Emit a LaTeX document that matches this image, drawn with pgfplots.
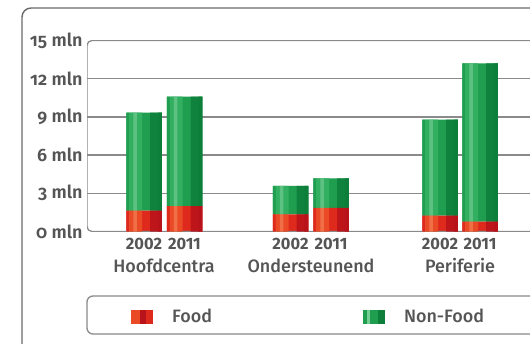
\documentclass[border=0pt]{standalone}
\usepackage{fontspec}
\setmainfont{Fira Sans}
\newfontface\medfont{Fira Sans Medium}
\newfontface\semifont{Fira Sans SemiBold}[RawFeature={+onum;+pnum}]
\newfontface\yearfont{Fira Sans Bold}[Numbers=Proportional]
\usepackage{pgfplots}
\pgfplotsset{compat=1.18}
\definecolor{txt}{HTML}{555555}
\definecolor{gridc}{HTML}{8A8A8A}
\definecolor{framec}{HTML}{6A6A6A}
\definecolor{gDark}{HTML}{0D7F3A}
\definecolor{gMid}{HTML}{1F9E50}
\definecolor{gLight}{HTML}{33AF61}
\definecolor{gHigh}{HTML}{74CD93}
\definecolor{rDark}{HTML}{B8121A}
\definecolor{rMid}{HTML}{DE2A1C}
\definecolor{rLight}{HTML}{EA4A26}
\definecolor{rHigh}{HTML}{F5845A}

% food and non-food turnover per location type (million)
\pgfplotstableread{
x      food  nonfood
144    1.63  7.71
184.5  2.00  8.60
290.5  1.35  2.24
331    1.86  2.31
440    1.24  7.55
480    0.77  12.43
}\turnover

\pgfplotsset{
  panel/.style={at={(87bp,111.5bp)}, anchor=south west, scale only axis,
    width=460bp, height=191bp, xmin=87, xmax=547, ymin=0, ymax=15, ybar stacked},
}
% one band of the rounded-bar look: width, shift, food colour, non-food colour, opacity
\newcommand\barlayer[5]{%
  \begin{axis}[panel, hide axis, bar width=#1, bar shift=#2]
  \addplot[draw=none, fill=#3, fill opacity=#5] table[x=x, y=food] {\turnover};
  \addplot[draw=none, fill=#4, fill opacity=#5] table[x=x, y=nonfood] {\turnover};
  \end{axis}}

\begin{document}
\begin{tikzpicture}[x=1bp,y=1bp]
\useasboundingbox (0,0) rectangle (530,343);
\clip (0,0) rectangle (530,343);
\fill[white] (0,0) rectangle (530,343);
% outer panel and legend box
\draw[framec, line width=1.4bp, rounded corners=9bp] (22,-20) -- (22,335) -- (580,335);
\draw[gridc, line width=1.3bp, rounded corners=6bp] (580,47) -- (87,47) -- (87,9) -- (580,9);
\begin{axis}[
  panel,
  bar width=35.5,
  axis line style={draw=none},
  major tick length=0,
  ytick={3,6,9,12}, yticklabels={3 mln,6 mln,9 mln,12 mln},
  extra y ticks={0,15}, extra y tick labels={0 mln,15 mln},
  extra y tick style={grid=none},
  ymajorgrids, grid style={gridc, line width=1.3bp},
  yticklabel style={font=\fontsize{18}{18}\semifont, text=txt, xshift=-1bp},
  xtick={144,184.5,290.5,331,440,480},
  xticklabels={2002,2011,2002,2011,2002,2011},
  xticklabel style={font=\fontsize{16.5}{16.5}\yearfont, text=txt,
    anchor=base, yshift=-17.5bp},
  extra x ticks={164,311,460},
  extra x tick labels={Hoofdcentra,Ondersteunend,Periferie},
  extra x tick style={grid=none, xticklabel style={font=\fontsize{18}{18}\medfont, yshift=-23bp}},
  legend style={at={(axis cs:131,-6.71)}, anchor=west, draw=none, fill=none,
    inner sep=0pt, legend columns=2, font=\fontsize{18}{18}\medfont, text=txt,
    nodes={inner sep=0pt},
    /tikz/every odd column/.append style={column sep=19bp},
    /tikz/every even column/.append style={column sep=151bp}},
]
\draw[gridc, line width=1.3bp, rounded corners=5bp]
  (rel axis cs:1.2,1) -- (rel axis cs:0,1) -- (rel axis cs:0,0) -- (rel axis cs:1.2,0);
\addplot[draw=none, fill=rMid,
  legend image code/.code={
    \fill[rLight] (0bp,-7bp) rectangle (22bp,7bp);
    \fill[rDark] (9bp,-7bp) rectangle (15bp,7bp);
    \fill[rMid] (15bp,-7bp) rectangle (22bp,7bp);}]
  table[x=x, y=food] {\turnover};
\addplot[draw=none, fill=gMid,
  legend image code/.code={
    \fill[gMid] (0bp,-7bp) rectangle (22bp,7bp);
    \fill[gHigh] (4bp,-7bp) rectangle (7bp,7bp);
    \fill[gDark] (15bp,-7bp) rectangle (22bp,7bp);}]
  table[x=x, y=nonfood] {\turnover};
\legend{Food, Non-Food}
\end{axis}
% shading bands across each bar
\barlayer{13}{-8.5}{rLight}{gLight}{1}
\barlayer{2.5}{-16.5}{rMid}{gMid}{1}
\barlayer{3.5}{-9}{rHigh}{gHigh}{0.65}
\barlayer{11.75}{11.9}{rDark}{gDark}{0.85}
\barlayer{4}{15.75}{rDark}{gDark}{1}
\end{tikzpicture}
\end{document}
